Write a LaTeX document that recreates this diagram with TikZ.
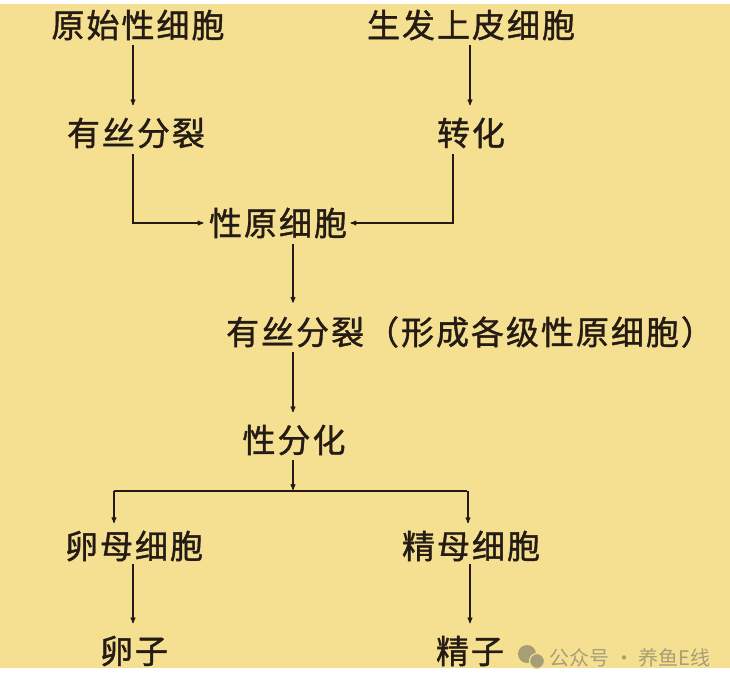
\documentclass[tikz,border=0pt]{standalone}
\usepackage{fontspec}
\usepackage{tikz}
\usetikzlibrary{arrows}
\newfontfamily\cjk[FakeBold=1.2,LetterSpace=6]{Noto Sans CJK SC}
\newfontfamily\wmfont{Noto Sans CJK SC}
\definecolor{paper}{RGB}{245,224,146}
\definecolor{ink}{RGB}{36,27,20}
\definecolor{wmgray}{RGB}{168,158,118}

\begin{document}
\begin{tikzpicture}[x=1pt,y=-1pt,>=stealth',shorten >=1pt,line width=1.1pt,color=ink,
  cell/.style={inner sep=0pt,text=ink,font=\cjk\fontsize{33}{33}\selectfont}]

\useasboundingbox (0,0) rectangle (730,688);
\fill[white] (0,0) rectangle (730,688);
\fill[paper] (0,4) rectangle (730,668);

\node[cell] (YS) at (138,25)  {原始性细胞};
\node[cell] (SF) at (471,25)  {生发上皮细胞};
\node[cell] (MA) at (136,133) {有丝分裂};
\node[cell] (ZH) at (471,133) {转化};
\node[cell] (SY) at (278,223) {性原细胞};
\node[cell] (MB) at (470,332) {有丝分裂（形成各级性原细胞）};
\node[cell] (XF) at (294,440) {性分化};
\node[cell] (LM) at (134,546) {卵母细胞};
\node[cell] (JM) at (471,546) {精母细胞};
\node[cell] (LZ) at (134,651) {卵子};
\node[cell] (JZ) at (470,651) {精子};

\coordinate (LX) at (133,0);
\coordinate (RX) at (453,0);
\coordinate (MX) at (293,0);
\coordinate (JX) at (470,0);
\coordinate (BL) at (114,491);
\coordinate (BR) at (468,491);

\path ([yshift=-4]YS.south -| LX) edge[->] ([yshift=11]MA.north -| LX)
      ([yshift=-4]SF.south -| JX) edge[->] ([yshift=11]ZH.north -| JX);

\draw[->] ([yshift=-5]MA.south -| LX) |- ([xshift=-4]SY.west);
\draw[->] ([yshift=-5]ZH.south -| RX) |- ([xshift=2]SY.east);

\path ([yshift=-5]SY.south -| MX) edge[->] ([yshift=12]MB.north -| MX)
      ([yshift=-4]MB.south -| MX) edge[->] ([yshift=11]XF.north -| MX)
      ([yshift=-4]XF.south -| MX) edge[->] (MX |- BL);

\draw (BL) -- (BR);
\path (BL) edge[->] ([yshift=6]BL |- LM.north)
      (BR) edge[->] ([yshift=6]BR |- JM.north)
      ([yshift=-2]LM.south -| LX) edge[->] ([yshift=11]LZ.north -| LX)
      ([yshift=-2]JM.south -| JX) edge[->] ([yshift=11]JZ.north -| JX);

% watermark
\fill[wmgray] (527,654) circle (9);
\fill[wmgray,draw=paper,line width=1.2pt] (537,661) circle (7.5);
\node[inner sep=0pt,anchor=west,text=wmgray,font=\wmfont\fontsize{20}{20}\selectfont] (WM) at (549,658) {公众号 · 养鱼E线};

\end{tikzpicture}
\end{document}
